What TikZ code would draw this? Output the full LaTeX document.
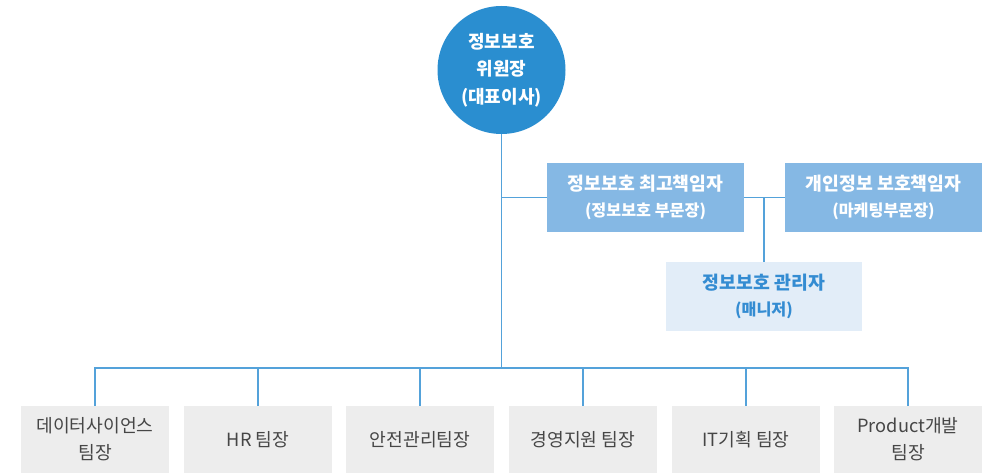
\documentclass[tikz,border=0pt]{standalone}
\usepackage{fontspec}
\setmainfont{Noto Sans CJK KR}
\definecolor{circblue}{RGB}{42,142,208}
\definecolor{midblue}{RGB}{133,184,228}
\definecolor{paleblue}{RGB}{226,237,248}
\definecolor{txtblue}{RGB}{52,140,210}
\definecolor{linkblue}{RGB}{84,162,218}
\definecolor{greybox}{RGB}{237,237,237}
\definecolor{greytxt}{RGB}{70,70,70}
\begin{document}
\begin{tikzpicture}[x=1pt,y=-1pt,
  link/.style={draw=linkblue,line width=1.2pt},
  chief/.style={circle,fill=circblue,minimum size=128pt,inner sep=0pt,text=white,align=center,font=\bfseries\fontsize{18}{27.5}\selectfont},
  officer/.style={rectangle,fill=midblue,minimum width=197pt,minimum height=69pt,inner sep=0pt,text=white,align=center,font=\bfseries\fontsize{18.3}{26.5}\selectfont},
  manager/.style={rectangle,fill=paleblue,minimum width=196pt,minimum height=69pt,inner sep=0pt,text=txtblue,align=center,font=\bfseries\fontsize{18.3}{26.5}\selectfont},
  team/.style={rectangle,fill=greybox,minimum width=148pt,minimum height=67pt,inner sep=0pt,text=greytxt,align=center,font=\fontsize{18.2}{27}\selectfont},
  sub/.style={}]
\useasboundingbox (0,0) rectangle (991,473);
% nodes
\node[chief] (c) at (501.5,70) {정보보호\\위원장\\(대표이사)};
\node[officer] (b1) at (645.5,197.5) {정보보호 최고책임자\\{\fontsize{16.2}{26.5}\selectfont (정보보호 부문장)}};
\node[officer] (b2) at (883.5,197.5) {개인정보 보호책임자\\{\fontsize{16.2}{26.5}\selectfont (마케팅부문장)}};
\node[manager] (b3) at (764,296.5) {정보보호 관리자\\{\fontsize{16.2}{26.5}\selectfont (매니저)}};
\node[team] (t1) at (95,439.5) {데이터사이언스\\팀장};
\node[team] (t2) at (258,439.5) {HR 팀장};
\node[team] (t3) at (420,439.5) {안전관리팀장};
\node[team] (t4) at (583,439.5) {경영지원 팀장};
\node[team] (t5) at (746,439.5) {IT기획 팀장};
\node[team] (t6) at (908,439.5) {Product개발\\팀장};
% junctions
\coordinate (bus) at (501.5,368);
\coordinate (j1) at (501.5,197.5);
\coordinate (j2) at (764,197.5);
% connectors
\draw[link] (c.south) -- (bus);
\draw[link] (j1) -- (b1.west);
\draw[link] (b1.east) -- (b2.west);
\draw[link] (j2) -- (b3.north);
\draw[link] (t1.north) -- (t1.north |- bus) -- (t6.north |- bus) -- (t6.north);
\draw[link] (t2.north) -- (t2.north |- bus);
\draw[link] (t3.north) -- (t3.north |- bus);
\draw[link] (t4.north) -- (t4.north |- bus);
\draw[link] (t5.north) -- (t5.north |- bus);
\end{tikzpicture}
\end{document}
